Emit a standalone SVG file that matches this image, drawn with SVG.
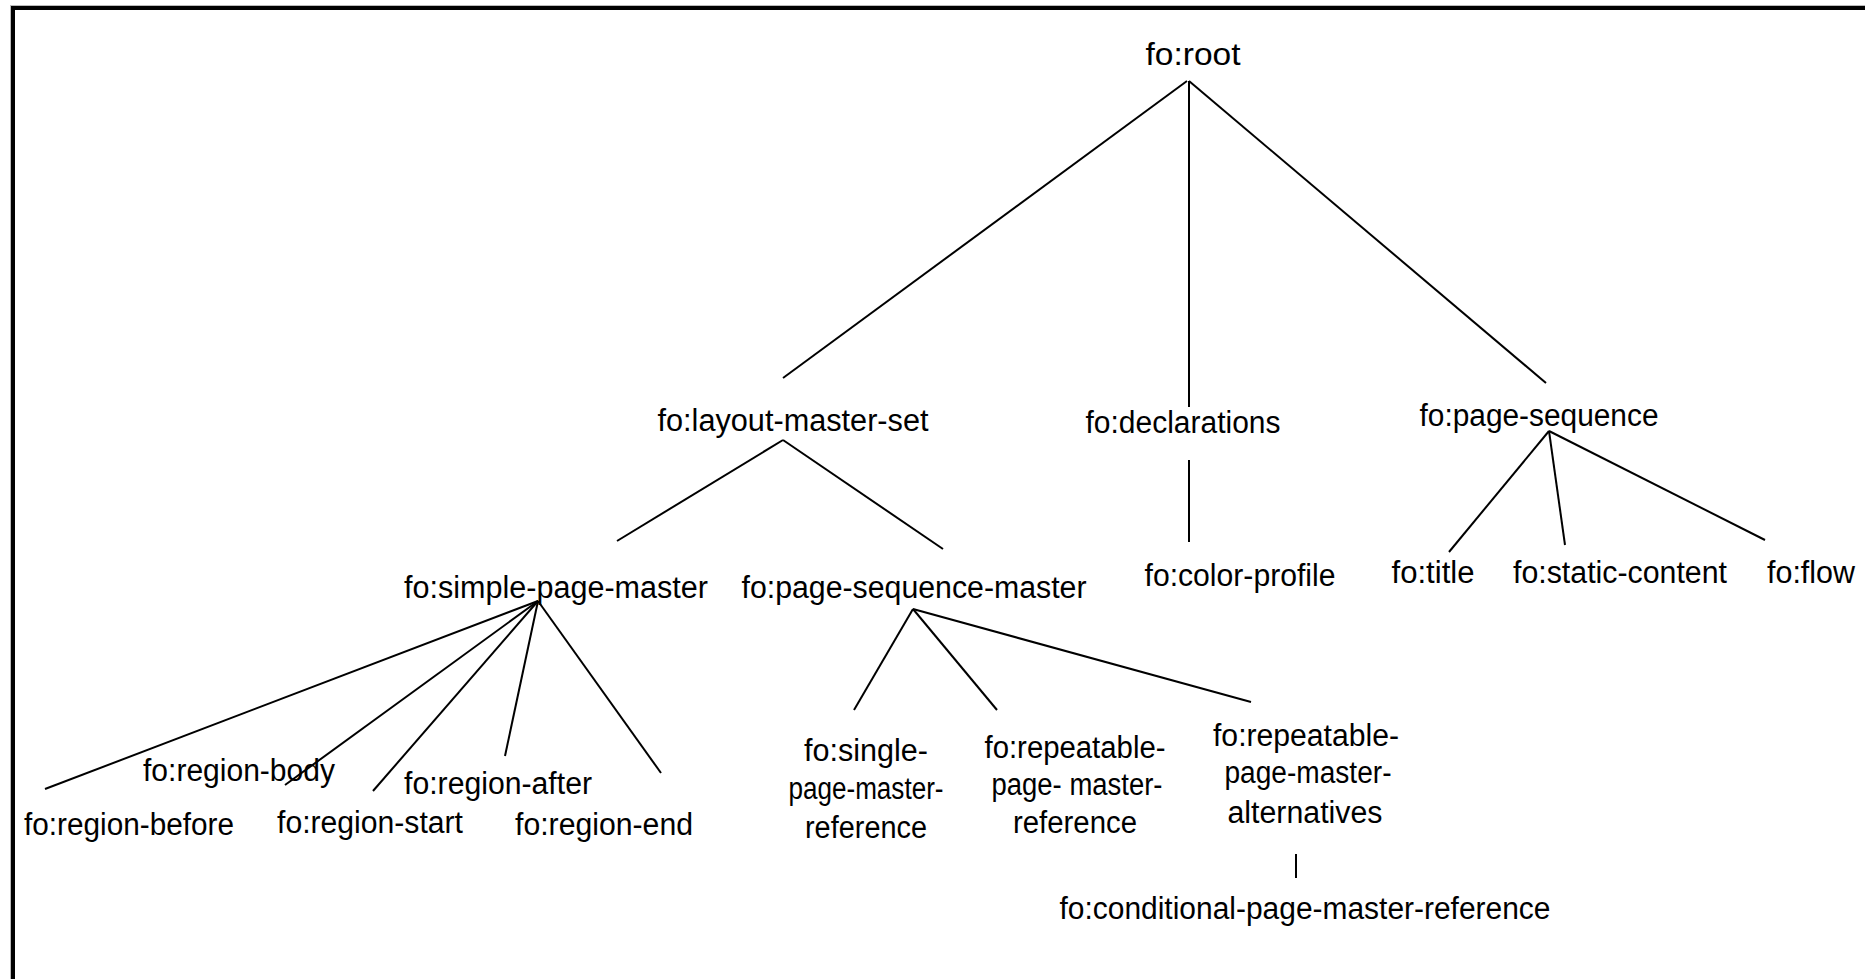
<svg xmlns="http://www.w3.org/2000/svg" width="1865" height="979" viewBox="0 0 1865 979">
<style>
text{font-family:"Liberation Sans",Arial,sans-serif;font-size:31px;fill:#000;text-anchor:middle}
.c line{stroke:#000;stroke-width:2;fill:none}
</style>
<rect width="1865" height="979" fill="#fff"/>
<g id="frame">
<line x1="10" y1="5.5" x2="1865" y2="5.5" stroke="#bbb" stroke-width="1"/>
<line x1="10.5" y1="5" x2="10.5" y2="979" stroke="#bbb" stroke-width="1"/>
<rect x="11" y="6" width="1854" height="4" fill="#000"/>
<rect x="11" y="6" width="4" height="973" fill="#000"/>
</g>
<g class="c" id="connectors">
<line x1="1187" y1="81" x2="783" y2="378"/>
<line x1="1189" y1="81" x2="1189" y2="407"/>
<line x1="1189" y1="81" x2="1546" y2="383"/>
<line x1="783" y1="440" x2="617" y2="541"/>
<line x1="783" y1="440" x2="943" y2="549"/>
<line x1="1189" y1="460" x2="1189" y2="542"/>
<line x1="1549" y1="431" x2="1449" y2="552"/>
<line x1="1549" y1="431" x2="1565" y2="545"/>
<line x1="1549" y1="431" x2="1765" y2="540"/>
<line x1="538" y1="601" x2="45" y2="789"/>
<line x1="538" y1="601" x2="285" y2="785"/>
<line x1="538" y1="601" x2="373" y2="791"/>
<line x1="538" y1="601" x2="505" y2="756"/>
<line x1="538" y1="601" x2="661" y2="773"/>
<line x1="913" y1="609" x2="854" y2="710"/>
<line x1="913" y1="609" x2="997" y2="710"/>
<line x1="913" y1="609" x2="1251" y2="702"/>
<line x1="1296" y1="854" x2="1296" y2="878"/>
</g>
<g id="root"><text x="1193" y="65" textLength="95" lengthAdjust="spacingAndGlyphs">fo:root</text></g>
<g id="layout-master-set"><text x="793" y="431" textLength="271" lengthAdjust="spacingAndGlyphs">fo:layout-master-set</text></g>
<g id="declarations"><text x="1183" y="433" textLength="195" lengthAdjust="spacingAndGlyphs">fo:declarations</text></g>
<g id="page-sequence"><text x="1539" y="426" textLength="239" lengthAdjust="spacingAndGlyphs">fo:page-sequence</text></g>
<g id="simple-page-master"><text x="556" y="598" textLength="304" lengthAdjust="spacingAndGlyphs">fo:simple-page-master</text></g>
<g id="page-sequence-master"><text x="914" y="598" textLength="345" lengthAdjust="spacingAndGlyphs">fo:page-sequence-master</text></g>
<g id="color-profile"><text x="1240" y="586" textLength="191" lengthAdjust="spacingAndGlyphs">fo:color-profile</text></g>
<g id="title"><text x="1433" y="583" textLength="83" lengthAdjust="spacingAndGlyphs">fo:title</text></g>
<g id="static-content"><text x="1620" y="583" textLength="214" lengthAdjust="spacingAndGlyphs">fo:static-content</text></g>
<g id="flow"><text x="1811" y="583" textLength="88" lengthAdjust="spacingAndGlyphs">fo:flow</text></g>
<g id="region-body"><text x="239" y="781" textLength="192" lengthAdjust="spacingAndGlyphs">fo:region-body</text></g>
<g id="region-after"><text x="498" y="794" textLength="188" lengthAdjust="spacingAndGlyphs">fo:region-after</text></g>
<g id="region-before"><text x="129" y="835" textLength="210" lengthAdjust="spacingAndGlyphs">fo:region-before</text></g>
<g id="region-start"><text x="370" y="833" textLength="186" lengthAdjust="spacingAndGlyphs">fo:region-start</text></g>
<g id="region-end"><text x="604" y="835" textLength="178" lengthAdjust="spacingAndGlyphs">fo:region-end</text></g>
<g id="single-page-master-reference">
<text x="866" y="761" textLength="124" lengthAdjust="spacingAndGlyphs">fo:single-</text>
<text x="866" y="799" textLength="155" lengthAdjust="spacingAndGlyphs">page-master-</text>
<text x="866" y="838" textLength="122" lengthAdjust="spacingAndGlyphs">reference</text>
</g>
<g id="repeatable-page-master-reference">
<text x="1075" y="758" textLength="181" lengthAdjust="spacingAndGlyphs">fo:repeatable-</text>
<text x="1077" y="795" textLength="171" lengthAdjust="spacingAndGlyphs">page- master-</text>
<text x="1075" y="833" textLength="124" lengthAdjust="spacingAndGlyphs">reference</text>
</g>
<g id="repeatable-page-master-alternatives">
<text x="1306" y="746" textLength="186" lengthAdjust="spacingAndGlyphs">fo:repeatable-</text>
<text x="1308" y="783" textLength="167" lengthAdjust="spacingAndGlyphs">page-master-</text>
<text x="1305" y="823" textLength="155" lengthAdjust="spacingAndGlyphs">alternatives</text>
</g>
<g id="conditional-page-master-reference"><text x="1305" y="919" textLength="491" lengthAdjust="spacingAndGlyphs">fo:conditional-page-master-reference</text></g>
</svg>
